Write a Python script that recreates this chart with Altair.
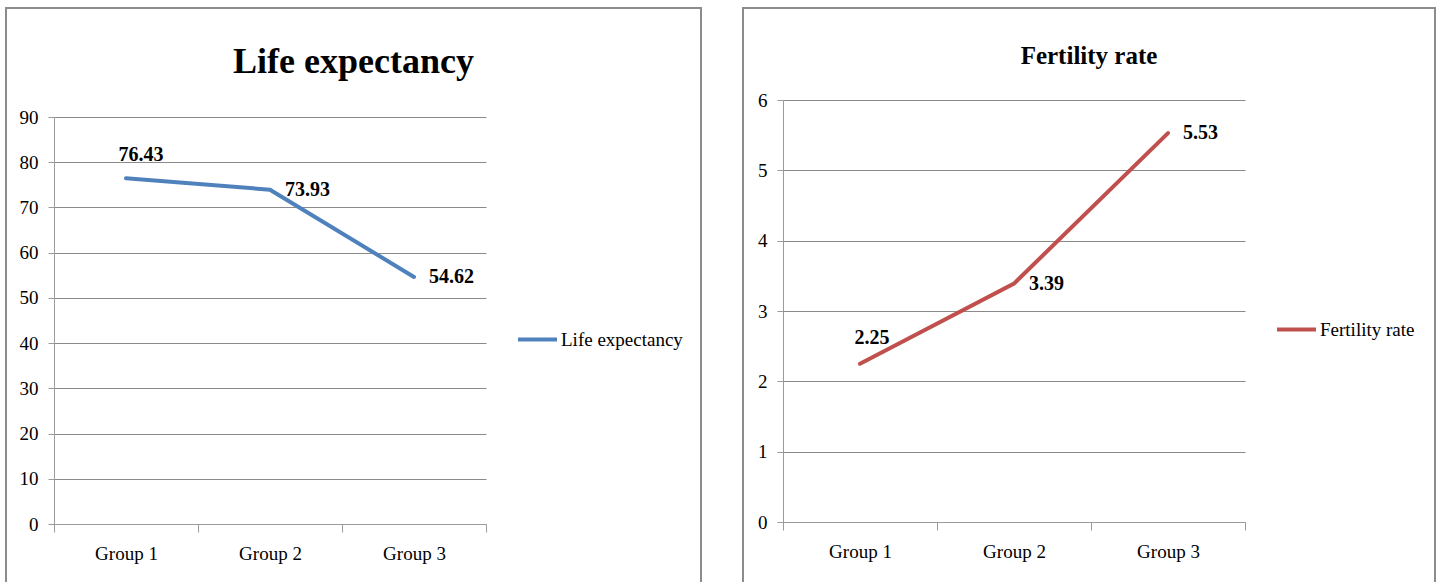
import altair as alt
import pandas as pd

# Values shown in the two panels
groups = ["Group 1", "Group 2", "Group 3"]
life_expectancy = [76.43, 73.93, 54.62]
fertility_rate = [2.25, 3.39, 5.53]
life_ticks = [0, 10, 20, 30, 40, 50, 60, 70, 80, 90]
fertility_ticks = [0, 1, 2, 3, 4, 5, 6]

FONT = "Liberation Serif"
GRID = "#8a8a8a"
AXIS = "#9a9a9a"


def panel(values, series, color, ticks, width, height, x_range, y_range,
          title_size, title_offset, legend_x, legend_y, above_dx, above_dy):
    df = pd.DataFrame({"group": groups, "value": values, "series": series})

    x_enc = alt.X(
        "group:N", sort=groups,
        scale=alt.Scale(type="band", domain=groups, range=x_range,
                        paddingInner=0, paddingOuter=0),
        axis=alt.Axis(title=None, labelAngle=0, tickBand="extent", tickSize=8,
                      labelPadding=12, labelFontSize=19, grid=False,
                      offset=-(height - y_range[0])),
    )
    y_enc = alt.Y(
        "value:Q",
        scale=alt.Scale(domain=[ticks[0], ticks[-1]], range=y_range, nice=False),
        axis=alt.Axis(title=None, values=ticks, tickSize=6, labelPadding=10,
                      labelFontSize=19, grid=True, gridColor=GRID,
                      gridWidth=1.2, offset=-x_range[0]),
    )

    line = alt.Chart(df).mark_line(strokeWidth=4, strokeCap="round").encode(
        x=x_enc, y=y_enc,
        color=alt.Color(
            "series:N",
            scale=alt.Scale(domain=[series], range=[color]),
            legend=alt.Legend(orient="none", legendX=legend_x, legendY=legend_y,
                              title=None, symbolType="stroke",
                              symbolStrokeWidth=4, symbolSize=1521,
                              labelFont=FONT, labelFontSize=19,
                              labelColor="black", labelOffset=2, padding=0),
        ),
    )

    text_style = dict(font=FONT, fontSize=20, fontWeight="bold", color="black")
    label_above = alt.Chart(df).transform_filter(
        alt.datum.group == groups[0]
    ).mark_text(align="center", baseline="alphabetic", dx=above_dx,
                dy=above_dy, **text_style).encode(
        x=x_enc, y=y_enc, text=alt.Text("value:Q", format=".2f"))
    label_right = alt.Chart(df).transform_filter(
        alt.datum.group != groups[0]
    ).mark_text(align="left", baseline="middle", dx=15,
                **text_style).encode(
        x=x_enc, y=y_enc, text=alt.Text("value:Q", format=".2f"))

    return alt.layer(line, label_above, label_right).properties(
        width=width, height=height,
        title=alt.TitleParams(series, anchor="middle", font=FONT,
                              fontSize=title_size, fontWeight="bold",
                              color="black", baseline="alphabetic",
                              offset=title_offset),
    )


left = panel(life_expectancy, "Life expectancy", "#4F81BD", life_ticks,
             695, 580, [48, 480], [516, 109], 36, -101, 510, 310, 15, -17)
right = panel(fertility_rate, "Fertility rate", "#C0504D", fertility_ticks,
              692, 580, [40, 502], [514, 92], 25, -81, 532, 300, 12, -20)

chart = alt.hconcat(left, right, spacing=40).resolve_scale(
    x="independent", y="independent", color="independent"
).resolve_legend(color="independent").configure_view(
    stroke="#8c8c8c", strokeWidth=2
).configure_axis(
    labelFont=FONT, labelColor="black", domainColor=AXIS, tickColor=AXIS
).properties(
    padding={"left": 5, "top": 7, "right": 0, "bottom": 0},
    background="white",
)

chart.save("out.html", embed_options={"renderer": "svg", "actions": False})
